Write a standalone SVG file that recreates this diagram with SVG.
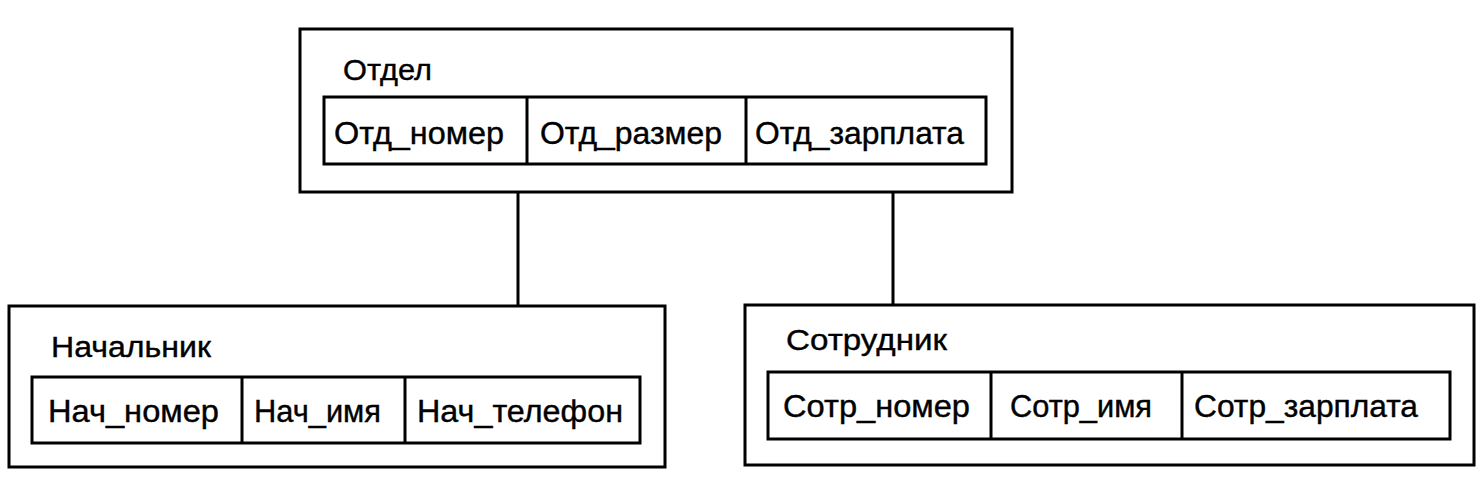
<svg xmlns="http://www.w3.org/2000/svg" width="1482" height="487" viewBox="0 0 1482 487">
<style>
.box{fill:none;stroke:#000;stroke-width:3}
.ln{stroke:#000;stroke-width:3;fill:none}
.t{font-family:"Liberation Sans",Arial,sans-serif;font-size:30px;fill:#000;stroke:#000;stroke-width:0.4}
.f{font-family:"Liberation Sans",Arial,sans-serif;font-size:31px;fill:#000;stroke:#000;stroke-width:0.4}
</style>
<rect width="1482" height="487" fill="#fff"/>
<g id="connectors">
<line class="ln" x1="518" y1="192" x2="518" y2="306"/>
<line class="ln" x1="893" y1="192" x2="893" y2="305"/>
</g>
<g id="otdel">
<rect class="box" x="300" y="29" width="712" height="163"/>
<text class="t" x="343" y="80" textLength="89" lengthAdjust="spacingAndGlyphs">Отдел</text>
<rect class="box" x="324" y="97" width="662" height="67"/>
<line class="ln" x1="527" y1="97" x2="527" y2="164"/>
<line class="ln" x1="746" y1="97" x2="746" y2="164"/>
<text class="f" x="334" y="144" textLength="170" lengthAdjust="spacingAndGlyphs">Отд_номер</text>
<text class="f" x="540" y="144" textLength="182" lengthAdjust="spacingAndGlyphs">Отд_размер</text>
<text class="f" x="755" y="144" textLength="209" lengthAdjust="spacingAndGlyphs">Отд_зарплата</text>
</g>
<g id="nachalnik">
<rect class="box" x="9" y="306" width="656" height="161"/>
<text class="t" x="51" y="357" textLength="160" lengthAdjust="spacingAndGlyphs">Начальник</text>
<rect class="box" x="32" y="377" width="608" height="66"/>
<line class="ln" x1="242" y1="377" x2="242" y2="443"/>
<line class="ln" x1="405" y1="377" x2="405" y2="443"/>
<text class="f" x="48" y="422" textLength="171" lengthAdjust="spacingAndGlyphs">Нач_номер</text>
<text class="f" x="254" y="422" textLength="127" lengthAdjust="spacingAndGlyphs">Нач_имя</text>
<text class="f" x="417" y="422" textLength="206" lengthAdjust="spacingAndGlyphs">Нач_телефон</text>
</g>
<g id="sotrudnik">
<rect class="box" x="745" y="305" width="729" height="160"/>
<text class="t" x="786" y="350" textLength="161" lengthAdjust="spacingAndGlyphs">Сотрудник</text>
<rect class="box" x="768" y="372" width="682" height="67"/>
<line class="ln" x1="991" y1="372" x2="991" y2="439"/>
<line class="ln" x1="1182" y1="372" x2="1182" y2="439"/>
<text class="f" x="783" y="417" textLength="187" lengthAdjust="spacingAndGlyphs">Сотр_номер</text>
<text class="f" x="1010" y="417" textLength="142" lengthAdjust="spacingAndGlyphs">Сотр_имя</text>
<text class="f" x="1194" y="417" textLength="224" lengthAdjust="spacingAndGlyphs">Сотр_зарплата</text>
</g>
</svg>
